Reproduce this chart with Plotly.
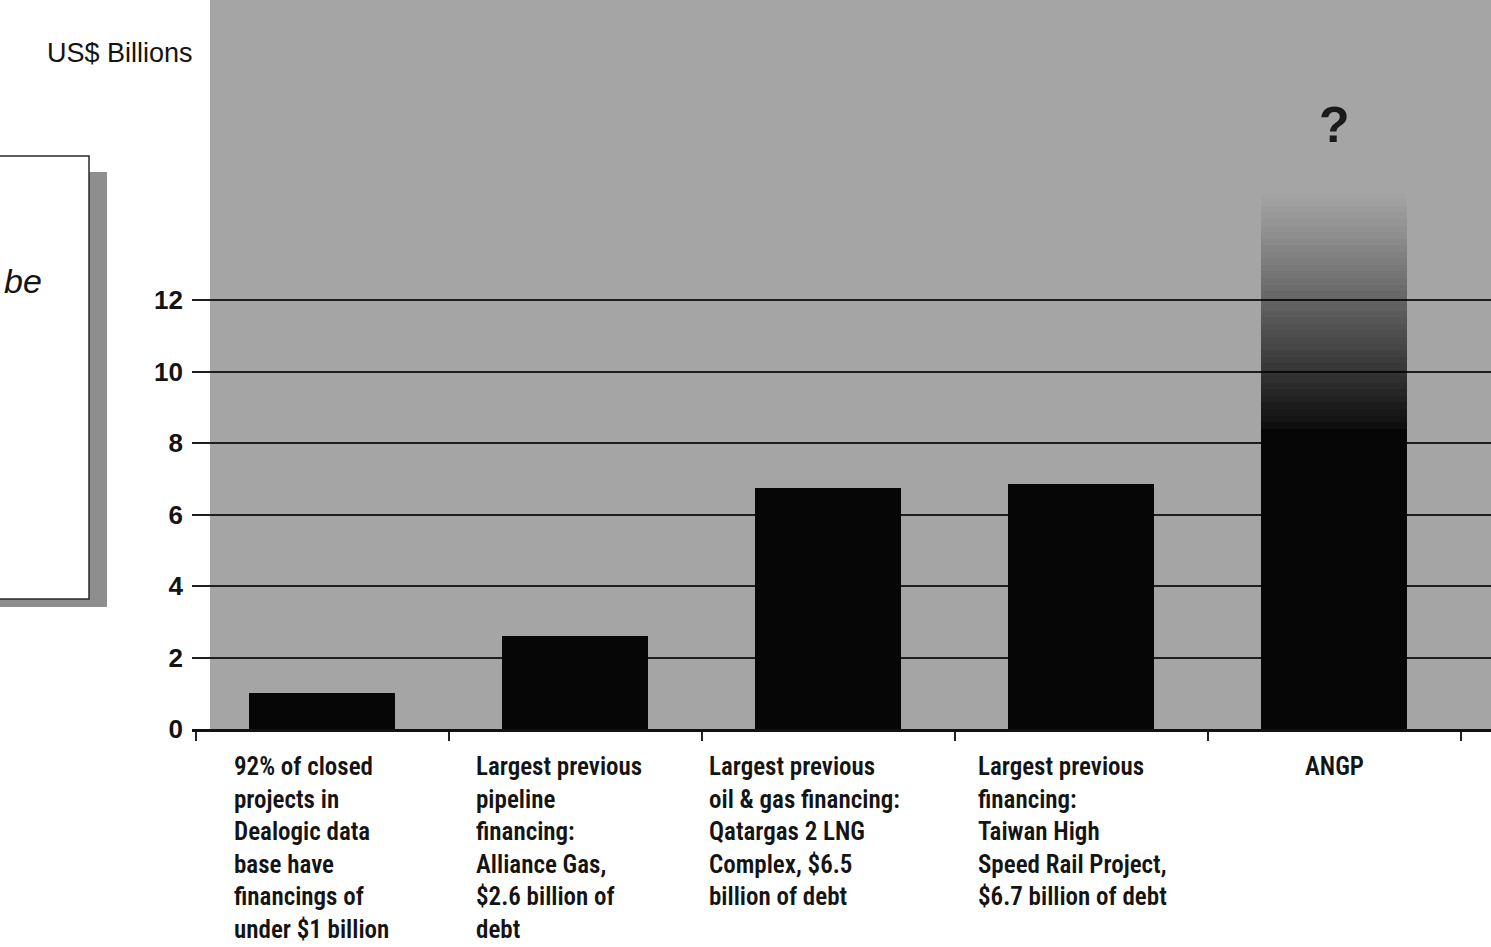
import plotly.graph_objects as go

# ---------------- data ----------------
categories = ["Under $1bn", "Alliance Gas", "Qatargas 2", "Taiwan HSR", "ANGP"]
values = [1.0, 2.6, 6.75, 6.85, 8.4]          # solid bar heights, US$ billions
angp_fade_top = 15.0                            # top of the faded part of the ANGP bar
category_labels = [
    "92% of closed<br>projects in<br>Dealogic data<br>base have<br>financings of<br>under $1 billion",
    "Largest previous<br>pipeline<br>financing:<br>Alliance Gas,<br>$2.6 billion of<br>debt",
    "Largest previous<br>oil & gas financing:<br>Qatargas 2 LNG<br>Complex, $6.5<br>billion of debt",
    "Largest previous<br>financing:<br>Taiwan High<br>Speed Rail Project,<br>$6.7 billion of debt",
    "ANGP",
]
y_ticks = [0, 2, 4, 6, 8, 10, 12]
y_title = "US$ Billions"
question_mark = "?"
question_y = 16.9
box_text = "be"

# ---------------- geometry helpers ----------------
W, H = 1491, 947
ML, MR, MT, MB = 192, 0, 0, 218
PW, PH = W - ML - MR, H - MT - MB
def px(x):   # pixel -> paper x
    return (x - ML) / PW
def py(y):   # pixel -> paper y
    return (H - MB - y) / PH

xs = list(range(len(categories)))
bar_w = 0.575
narrow = "Liberation Sans Narrow, Arial Narrow, Roboto Condensed, Liberation Sans, Arial"
sans = "Liberation Sans, Arial, Helvetica, sans-serif"

fig = go.Figure()

# solid bars
fig.add_trace(go.Bar(
    x=xs, y=values, width=bar_w,
    marker=dict(color="#060606", line=dict(width=0)),
    hoverinfo="skip", showlegend=False,
))

# fading upper part of the ANGP bar (stacked thin segments with falling opacity)
n_seg = 36
base0 = values[-1]
seg_h = (angp_fade_top - base0) / n_seg
seg_bases = [base0 + i * seg_h for i in range(n_seg)]
seg_cols = [f"rgba(6,6,6,{0.96 * (1 - (i + 0.5) / n_seg) ** 1.1:.3f})" for i in range(n_seg)]
fig.add_trace(go.Bar(
    x=[xs[-1]] * n_seg, y=[seg_h] * n_seg, base=seg_bases, width=bar_w,
    marker=dict(color=seg_cols, line=dict(width=0)),
    hoverinfo="skip", showlegend=False,
))

# category labels below the axis
label_x = [-0.356, 0.60, 1.52, 2.585, 4.0]
label_anchor = ["left", "left", "left", "left", "center"]
for lx, txt, anc in zip(label_x, category_labels, label_anchor):
    fig.add_annotation(
        x=lx, y=py(750), xref="x", yref="paper", text=txt, showarrow=False,
        xanchor=anc, yanchor="top", align="left",
        font=dict(family=narrow, size=25, color="#141414", weight=600),
    )

# question mark above ANGP
fig.add_annotation(
    x=xs[-1], y=question_y, text=f"<b>{question_mark}</b>", showarrow=False,
    font=dict(family=sans, size=50, color="#1a1a1a"),
)

# y-axis title
fig.add_annotation(
    x=px(195), y=py(53), xref="paper", yref="paper", text=y_title, showarrow=False,
    xanchor="right", yanchor="middle", font=dict(family=sans, size=27, color="#141414"),
)

# partial text box at left
fig.add_annotation(
    x=px(44), y=py(281), xref="paper", yref="paper", text=f"<i>{box_text}</i>", showarrow=False,
    xanchor="right", yanchor="middle", font=dict(family=sans, size=34, color="#141414"),
)

shapes = [
    # textured plot background (flat gray)
    dict(type="rect", xref="paper", yref="paper", x0=px(210), x1=1, y0=0, y1=1,
         fillcolor="#a5a5a5", line=dict(width=0), layer="below"),
    # left box shadow
    dict(type="rect", xref="paper", yref="paper", x0=px(89), x1=px(107), y0=py(607), y1=py(172),
         fillcolor="#8e8e8e", line=dict(width=0), layer="below"),
    dict(type="rect", xref="paper", yref="paper", x0=px(-2), x1=px(107), y0=py(607), y1=py(598),
         fillcolor="#8e8e8e", line=dict(width=0), layer="below"),
    # left box
    dict(type="rect", xref="paper", yref="paper", x0=px(-5), x1=px(89), y0=py(599), y1=py(156),
         fillcolor="white", line=dict(color="#2a2a2a", width=1.5), layer="below"),
]

fig.update_layout(
    width=W, height=H,
    margin=dict(l=ML, r=MR, t=MT, b=MB, pad=0),
    paper_bgcolor="white", plot_bgcolor="white",
    barmode="overlay", bargap=0,
    shapes=shapes,
    xaxis=dict(
        range=[-(322 - ML) / 253, (W - 322) / 253],
        tickmode="array", tickvals=[-0.5, 0.5, 1.5, 2.5, 3.5, 4.5], ticktext=[""] * 6,
        ticks="outside", ticklen=9, tickwidth=1.5, tickcolor="#222",
        showline=True, linecolor="#111", linewidth=2.5,
        showgrid=False, zeroline=False, fixedrange=True,
    ),
    yaxis=dict(
        range=[0, PH / 35.75],
        tickmode="array", tickvals=y_ticks, ticktext=[str(t) for t in y_ticks],
        ticks="", ticklabelstandoff=8,
        tickfont=dict(family=sans, size=26, color="#141414", weight=600),
        showgrid=True, gridcolor="#1e1e1e", gridwidth=1.6,
        zeroline=False, showline=False, fixedrange=True,
    ),
)

fig.write_html("out.html")
